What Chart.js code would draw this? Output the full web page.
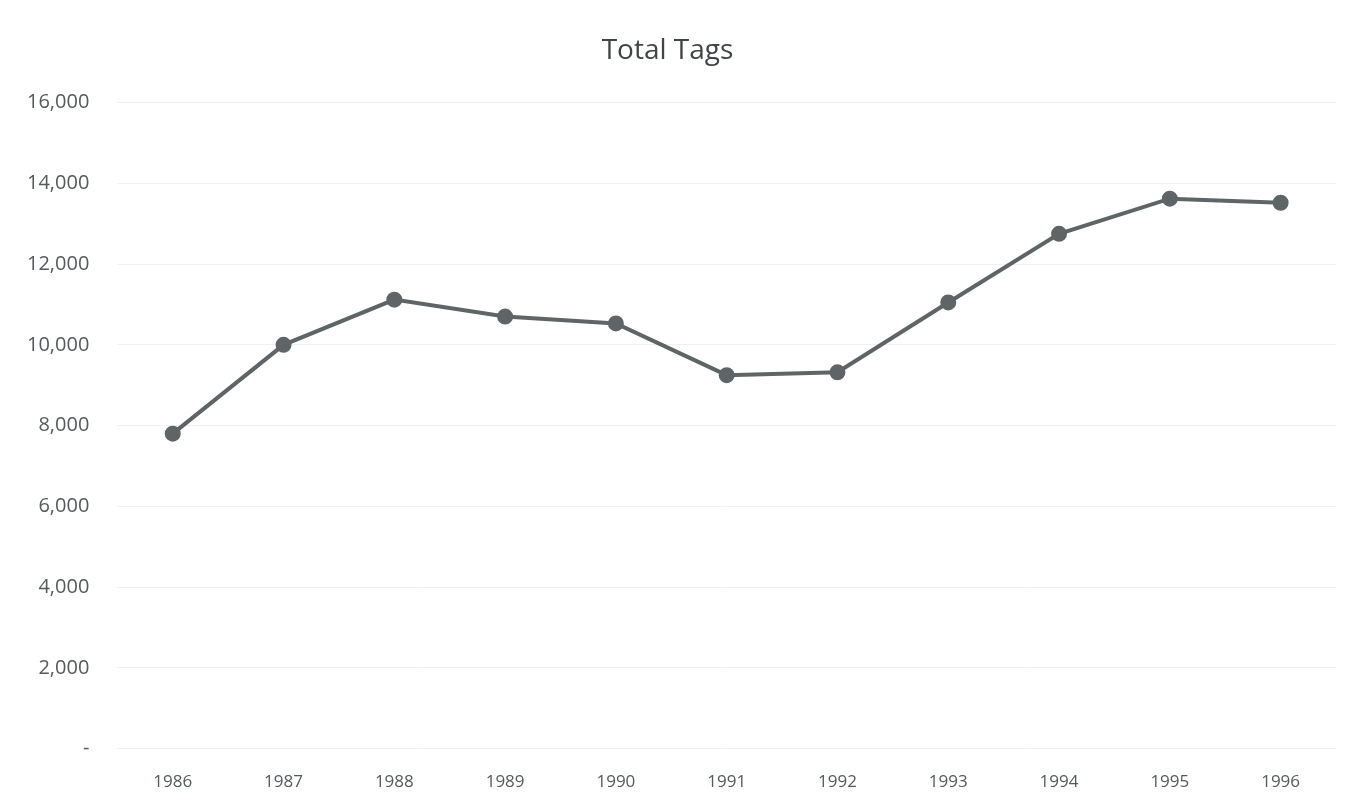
<!DOCTYPE html>
<html>
<head>
<meta charset="utf-8">
<title>Total Tags</title>
<script src="https://cdn.jsdelivr.net/npm/chart.js@4/dist/chart.umd.min.js"></script>
<style>
  html, body { margin: 0; padding: 0; background: #fff; }
  #wrap { width: 1349px; height: 807px; position: relative; }
</style>
</head>
<body>
<div id="wrap"><canvas id="chart"></canvas></div>
<script>
const years = ['1986', '1987', '1988', '1989', '1990', '1991', '1992', '1993', '1994', '1995', '1996'];
const totalTags = [7800, 10000, 11120, 10700, 10530, 9250, 9320, 11050, 12750, 13620, 13520];
const yTicks = [0, 2000, 4000, 6000, 8000, 10000, 12000, 14000, 16000];

const fontFamily = '"Open Sans", "Liberation Sans", sans-serif';
const textColor = '#555a5c';
const lineColor = '#5f6566';

function fmt(v) {
    if (v === 0) return '-';
    return v.toLocaleString('en-US');
}

new Chart(document.getElementById('chart'), {
    type: 'line',
    data: {
        labels: years,
        datasets: [{
            label: 'Total Tags',
            data: totalTags,
            borderColor: lineColor,
            backgroundColor: lineColor,
            borderWidth: 4,
            pointRadius: 6,
            pointHoverRadius: 6,
            pointBackgroundColor: lineColor,
            pointBorderColor: lineColor,
            tension: 0
        }]
    },
    options: {
        responsive: true,
        maintainAspectRatio: false,
        animation: false,
        // tick padding counts twice in the axis width, so pull the left edge back
        layout: { padding: { left: -1, right: 13, top: 0, bottom: -8 } },
        plugins: {
            legend: { display: false },
            tooltip: { enabled: false },
            title: {
                display: true,
                text: 'Total Tags',
                color: '#404446',
                font: { family: fontFamily, size: 28, weight: 'normal' },
                padding: { top: 34, bottom: 35 }
            }
        },
        scales: {
            x: {
                offset: true,
                grid: { display: false, drawTicks: false, offset: true },
                border: { display: false },
                ticks: {
                    color: textColor,
                    font: { family: fontFamily, size: 17 },
                    padding: 23,
                    maxRotation: 0
                }
            },
            y: {
                min: 0,
                max: 16000,
                afterBuildTicks: axis => { axis.ticks = yTicks.map(v => ({ value: v })); },
                grid: { color: '#f1f1f1', lineWidth: 1, drawTicks: false },
                border: { display: false },
                ticks: {
                    color: textColor,
                    font: { family: fontFamily, size: 20 },
                    padding: 28,
                    callback: v => fmt(v)
                }
            }
        }
    }
});
</script>
</body>
</html>
